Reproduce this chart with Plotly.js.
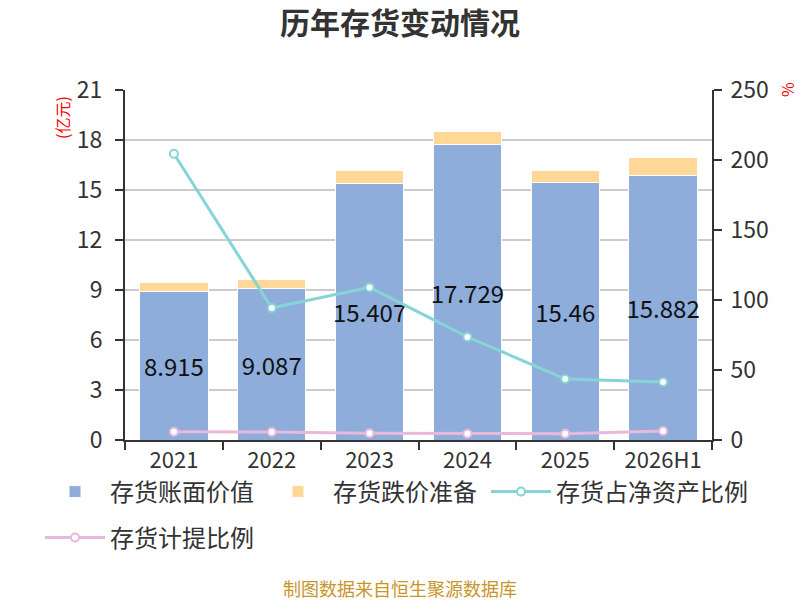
<!DOCTYPE html>
<html><head><meta charset="utf-8">
<script src="https://cdn.plot.ly/plotly-3.0.1.min.js"></script>
<style>body{margin:0;}#c{width:800px;height:600px;}</style>
</head><body><div id="c"></div>
<script>
const categories = ["2021","2022","2023","2024","2025","2026H1"];
const bookValue = [8.915, 9.087, 15.407, 17.729, 15.46, 15.882];
const impairment = [0.565, 0.57, 0.75, 0.79, 0.70, 1.08];
const netAssetRatio = [204.5, 94.3, 109, 73.6, 43.6, 41.4];
const provisionRatio = [5.9, 5.7, 4.8, 4.5, 4.5, 6.4];
const bookLabels = ["8.915","9.087","15.407","17.729","15.46","15.882"];
const leftTicks = [0,3,6,9,12,15,18,21];
const rightTicks = [0,50,100,150,200,250];

const F = '"Noto Sans CJK SC", "Noto Sans", sans-serif';
const traces = [
  {type:'bar', name:'存货账面价值', x:categories, y:bookValue, text:bookLabels,
   textposition:'inside', insidetextanchor:'middle', constraintext:'none', textangle:0,
   textfont:{size:24, color:'#111', family:F}, legend:'legend',
   marker:{color:'#8eaddb', line:{color:'#ffffff', width:1}}, hoverinfo:'skip'},
  {type:'bar', name:'存货跌价准备', x:categories, y:impairment, legend:'legend2',
   marker:{color:'#ffd898', line:{color:'#ffffff', width:1}}, hoverinfo:'skip'},
  {type:'scatter', mode:'lines+markers', name:'存货占净资产比例', x:categories, y:netAssetRatio, yaxis:'y2',
   legend:'legend3',
   line:{color:'#86d4d6', width:3}, marker:{size:8, color:'#ffffff', line:{color:'#86d4d6', width:2}}},
  {type:'scatter', mode:'lines+markers', name:'存货计提比例', x:categories, y:provisionRatio, yaxis:'y2',
   legend:'legend4',
   line:{color:'#e8b9da', width:3}, marker:{size:8, color:'#ffffff', line:{color:'#e8b9da', width:2}}}
];
function leg(px, py){
  return {orientation:'h', xanchor:'left', yanchor:'middle', traceorder:'normal',
    font:{size:24, color:'#333', family:F}, itemwidth:60, bgcolor:'rgba(0,0,0,0)',
    x:(px-125)/587, y:(440-py)/350};
}
const layout = {
  width:800, height:600,
  margin:{l:125, r:88, t:90, b:160},
  paper_bgcolor:'#fff', plot_bgcolor:'#fff',
  barmode:'stack', bargap:0.3,
  font:{family:F, color:'#333', size:23},
  title:{text:'<b>历年存货变动情况</b>', x:0.5, xanchor:'center', y:1-23/600, yanchor:'middle',
         font:{size:30, color:'#333', family:F}},
  showlegend:true,
  legend:leg(40, 492),
  legend2:leg(263, 492),
  legend3:leg(486, 492),
  legend4:leg(40, 538),
  xaxis:{type:'category', showline:true, linecolor:'#333', linewidth:2, ticks:'outside', ticklen:8,
         tickwidth:2, tickcolor:'#333', tickson:'boundaries', tickfont:{size:22, color:'#333'}, showgrid:false},
  yaxis:{range:[0,21], tickvals:leftTicks, showline:true, linecolor:'#333', linewidth:2, ticks:'outside',
         ticklen:8, tickwidth:2, tickcolor:'#333', showgrid:true, gridcolor:'#cccccc', gridwidth:2,
         zeroline:false, tickfont:{size:23, color:'#333'}, ticklabelstandoff:8},
  yaxis2:{range:[0,250], tickvals:rightTicks, overlaying:'y', side:'right', showline:true, linecolor:'#333',
         linewidth:2, ticks:'outside', ticklen:8, tickwidth:2, tickcolor:'#333', showgrid:false, zeroline:false,
         tickfont:{size:23, color:'#333'}, ticklabelstandoff:4},
  annotations:[
    {text:'(亿元)', xref:'paper', yref:'paper', x:(62-125)/587, y:(440-118)/350, textangle:-90,
     xanchor:'center', yanchor:'middle',
     showarrow:false, font:{size:16, color:'#ff0000', family:F}},
    {text:'%', xref:'paper', yref:'paper', x:(787-125)/587, y:(440-90)/350, textangle:-90,
     xanchor:'center', yanchor:'middle',
     showarrow:false, font:{size:16, color:'#ff0000', family:F}},
    {text:'制图数据来自恒生聚源数据库', xref:'paper', yref:'paper', x:(400-125)/587, y:(440-588)/350,
     xanchor:'center', yanchor:'middle',
     showarrow:false, font:{size:18, color:'#c8952a', family:F}}
  ]
};
Plotly.newPlot('c', traces, layout, {displayModeBar:false, staticPlot:true});
</script></body></html>
